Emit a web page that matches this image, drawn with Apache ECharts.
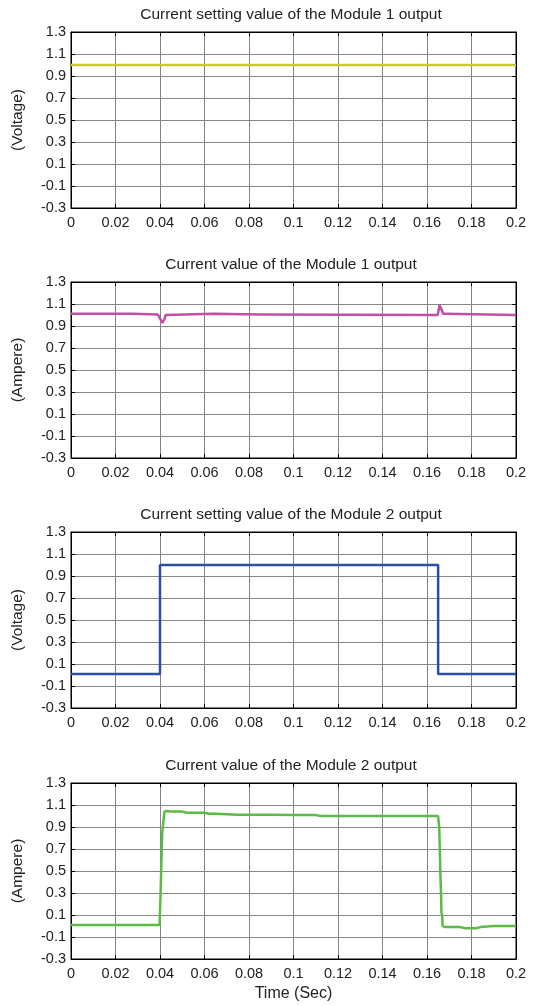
<!DOCTYPE html>
<html><head><meta charset="utf-8">
<script src="https://cdn.jsdelivr.net/npm/echarts@6/dist/echarts.min.js"></script>
<style>html,body{margin:0;padding:0;background:#fff}#c{width:534px;height:1006px}</style>
</head><body><div id="c"></div>
<script>
const titles = [
  'Current setting value of the Module 1 output',
  'Current value of the Module 1 output',
  'Current setting value of the Module 2 output',
  'Current value of the Module 2 output'
];
const yNames = ['(Voltage)', '(Ampere)', '(Voltage)', '(Ampere)'];
const xName = 'Time (Sec)';
const colors = ['#c8c832', '#bf4fa8', '#2c4fa6', '#5cbb44'];

const t1 = [0, 0.2];
const v1 = [1.0, 1.0];

const t2 = [0, 0.028, 0.0285, 0.039, 0.0398, 0.0405, 0.041, 0.0415, 0.042, 0.0425, 0.043, 0.064, 0.0645, 0.085, 0.0855, 0.0865, 0.087, 0.1648, 0.1652, 0.1656, 0.166, 0.1664, 0.1668, 0.1672, 0.1685, 0.169, 0.2];
const v2 = [1.012, 1.012, 1.005, 1.005, 1.0, 0.95, 0.93, 0.935, 0.96, 1.0, 1.012, 1.012, 1.005, 1.005, 1.015, 1.005, 1.0, 1.0, 1.04, 1.09, 1.095, 1.08, 1.04, 1.012, 1.012, 1.0, 1.0];

const t3 = [0, 0.04, 0.04, 0.165, 0.165, 0.2];
const v3 = [0.01, 0.01, 1.0, 1.0, 0.01, 0.01];

const t4 = [0, 0.0398, 0.0402, 0.0404, 0.0406, 0.0408, 0.041, 0.0412, 0.0415, 0.042, 0.0425, 0.043, 0.045, 0.05, 0.052, 0.06, 0.062, 0.065, 0.075, 0.09, 0.1, 0.11, 0.112, 0.165, 0.1652, 0.1655, 0.1658, 0.166, 0.1663, 0.1665, 0.1668, 0.167, 0.1675, 0.168, 0.175, 0.177, 0.182, 0.184, 0.19, 0.2];
const v4 = [0.01, 0.01, 0.25, 0.4, 0.56, 0.7, 0.85, 0.88, 0.95, 1.04, 1.045, 1.045, 1.04, 1.04, 1.03, 1.03, 1.02, 1.02, 1.012, 1.012, 1.01, 1.01, 1.0, 1.0, 0.95, 0.9, 0.65, 0.48, 0.3, 0.12, 0.1, 0.0, -0.01, -0.01, -0.01, -0.02, -0.02, -0.01, 0.0, 0.0];

const times = [t1, t2, t3, t4];
const vals = [v1, v2, v3, v4];

const xMin = 0, xMax = 0.2, xInt = 0.02;
const yMin = -0.3, yMax = 1.3, yInt = 0.2;

const L = 71, W = 445, H = 176;
const tops = [32, 282, 532, 783];
const font = 'Liberation Sans, Arial, sans-serif';

const grid = [], xAxis = [], yAxis = [], series = [], title = [];
tops.forEach((top, i) => {
  grid.push({left: L, top: top, width: W, height: H, show: true, borderColor: '#000', borderWidth: 1, backgroundColor: '#fff'});
  title.push({text: titles[i], left: 286, top: top - 30, textAlign: 'center',
    textStyle: {fontFamily: font, fontSize: 15.5, fontWeight: 'normal', color: '#222'}});
  const fmtX = v => (Math.round(v * 100) / 100).toString();
  const fmtY = v => (Math.round(v * 10) / 10).toFixed(1);
  xAxis.push({type: 'value', gridIndex: i, min: xMin, max: xMax, interval: xInt, position: 'bottom',
    name: i === 3 ? xName : '', nameLocation: 'middle', nameGap: 27,
    nameTextStyle: {fontFamily: font, fontSize: 16, color: '#222'},
    axisLine: {show: true, onZero: false, lineStyle: {color: '#000'}},
    axisTick: {show: true, inside: true, length: 4, lineStyle: {color: '#000'}},
    axisLabel: {formatter: fmtX, fontFamily: font, fontSize: 14.5, color: '#222', margin: 7},
    splitLine: {show: true, lineStyle: {color: '#858585', width: 1}}});
  xAxis.push({type: 'value', gridIndex: i, min: xMin, max: xMax, interval: xInt, position: 'top',
    axisLine: {show: true, onZero: false, lineStyle: {color: '#000'}},
    axisTick: {show: true, inside: true, length: 4, lineStyle: {color: '#000'}},
    axisLabel: {show: false}, splitLine: {show: false}});
  yAxis.push({type: 'value', gridIndex: i, min: yMin, max: yMax, interval: yInt, position: 'left',
    name: yNames[i], nameLocation: 'middle', nameGap: 45, nameRotate: 90,
    nameTextStyle: {fontFamily: font, fontSize: 15.5, color: '#222'},
    axisLine: {show: true, onZero: false, lineStyle: {color: '#000'}},
    axisTick: {show: true, inside: true, length: 4, lineStyle: {color: '#000'}},
    axisLabel: {formatter: fmtY, fontFamily: font, fontSize: 14.5, color: '#222', margin: 5},
    splitLine: {show: true, lineStyle: {color: '#858585', width: 1}}});
  yAxis.push({type: 'value', gridIndex: i, min: yMin, max: yMax, interval: yInt, position: 'right',
    axisLine: {show: true, onZero: false, lineStyle: {color: '#000'}},
    axisTick: {show: true, inside: true, length: 4, lineStyle: {color: '#000'}},
    axisLabel: {show: false}, splitLine: {show: false}});
  series.push({type: 'line', xAxisIndex: 2 * i, yAxisIndex: 2 * i, showSymbol: false, symbol: 'none',
    lineStyle: {color: colors[i], width: 2.5}, animation: false, silent: true,
    data: times[i].map((t, k) => [t, vals[i][k]])});
});

const chart = echarts.init(document.getElementById('c'), null, {renderer: 'canvas'});
chart.setOption({animation: false, backgroundColor: '#fff', title, grid, xAxis, yAxis, series});
</script></body></html>
